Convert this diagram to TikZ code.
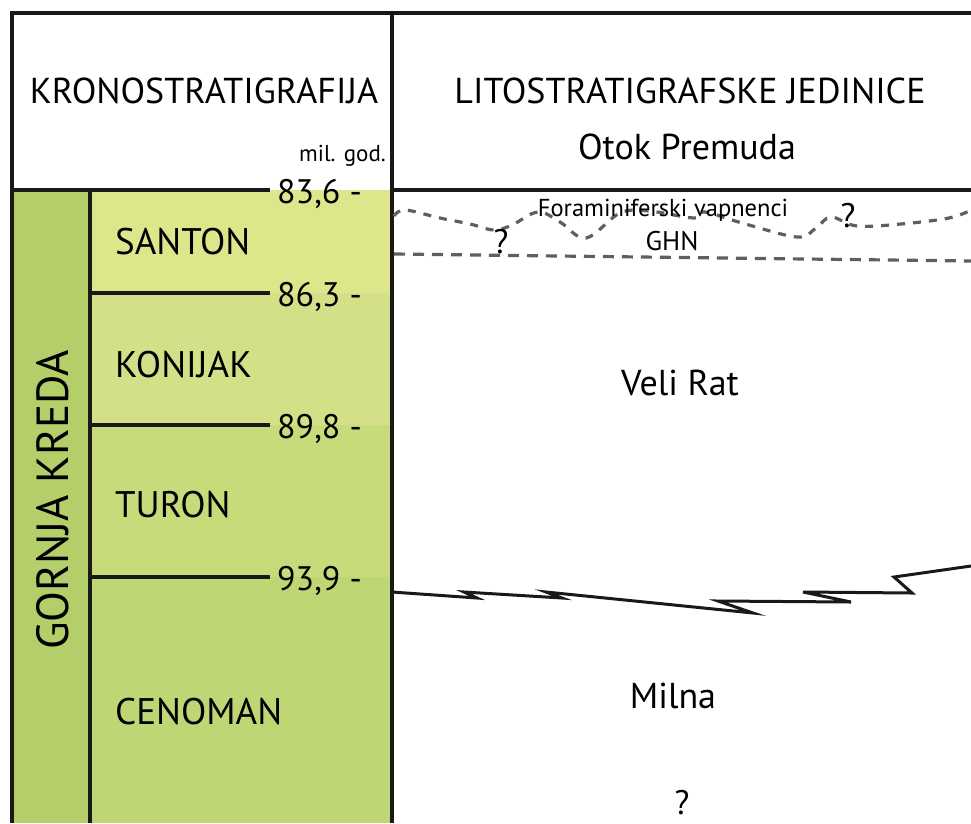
\documentclass[tikz,border=0pt]{standalone}
\usepackage{fontspec}
\setmainfont{PT Sans}
\usetikzlibrary{positioning,calc}
\definecolor{kredagreen} {RGB}{180,207,106}
\definecolor{santoncol}  {RGB}{221,230,139}
\definecolor{konijakcol} {RGB}{212,224,136}
\definecolor{turoncol}   {RGB}{200,219,123}
\definecolor{cenomancol} {RGB}{190,214,116}
\definecolor{contactgray}{RGB}{95,95,95}

\begin{document}
\begin{tikzpicture}[
  x=1pt,y=-1pt,
  frame/.style={line width=3.4pt,black!90},
  tick/.style={line width=3.2pt,black!90},
  head/.style={font=\fontsize{36}{40}\selectfont,anchor=base,inner sep=0pt},
  stage/.style={font=\fontsize{37}{40}\selectfont,anchor=base west,inner sep=0pt},
  age/.style={font=\fontsize{34}{38}\selectfont,anchor=base west,inner sep=0pt},
  unit/.style={font=\fontsize{36}{40}\selectfont,anchor=base,inner sep=0pt},
  small/.style={font=\fontsize{24.5}{28}\selectfont,anchor=base,inner sep=0pt},
  query/.style={font=\fontsize{34}{38}\selectfont,anchor=base,inner sep=0pt},
  wavy/.style={contactgray,line width=3.2pt,dash pattern=on 8pt off 8pt},
  dashline/.style={contactgray,line width=3.2pt,dash pattern=on 11pt off 8pt},
  contact/.style={line width=3pt,black!90,line join=miter},
]
\useasboundingbox (0,0) rectangle (971,823);

%% ── Colour fills of the chronostratigraphic column ─────────────────────────
\fill[kredagreen] (12,190)  rectangle (90,823);
\fill[santoncol]  (90,190)  rectangle (392,293);
\fill[konijakcol] (90,293)  rectangle (392,425);
\fill[turoncol]   (90,425)  rectangle (392,577);
\fill[cenomancol] (90,577)  rectangle (392,823);

%% ── Frame ──────────────────────────────────────────────────────────────────
\draw[frame] (12,823) -- (12,13) -- (971,13);
\draw[frame] (392,13) -- (392,823);
\draw[frame] (90,190) -- (90,823);
\draw[frame] (12,190) -- (270,190);
\draw[frame] (392,190) -- (971,190);

%% ── Stage boundaries and ages ──────────────────────────────────────────────
\foreach \yb in {293,425,577}{
  \draw[tick] (90,\yb) -- (270,\yb);
}
\node[age] (age836) at (277,203) {83,6 -};
\node[age] (age863) at (277,306) {86,3 -};
\node[age] (age898) at (277,438) {89,8 -};
\node[age] (age939) at (277,590) {93,9 -};

%% ── Header ────────────────────────────────────────────────────────────────
\node[head] (krono)  at (204,103) {KRONOSTRATIGRAFIJA};
\node[small,font=\fontsize{23}{26}\selectfont,anchor=base east]
  (milgod) at (386,161) {mil. god.};
\node[head] (lito)   at (690,103) {LITOSTRATIGRAFSKE JEDINICE};
\node[head] (otok)   at (687,159) {Otok Premuda};

%% ── Stages ────────────────────────────────────────────────────────────────
\node[stage] (santon)  at (115,254) {SANTON};
\node[stage] (konijak) at (115,377) {KONIJAK};
\node[stage] (turon)   at (115,517) {TURON};
\node[stage] (cenoman) at (115,724) {CENOMAN};
\node[font=\fontsize{45}{48}\selectfont,rotate=90,anchor=base,inner sep=0pt]
  (kreda) at (68,500) {GORNJA KREDA};

%% ── Lithostratigraphic contacts ───────────────────────────────────────────
\draw[wavy] plot[smooth,tension=0.6] coordinates {
  (394,216) (405,210) (440,218) (470,224) (494,230) (512,225) (538,212)
  (560,222) (586,238) (620,213) (649,211) (694,218) (705,212) (742,223)
  (797,237) (816,228) (831,217) (857,226) (901,224) (949,218) (971,210)};
\draw[dashline] (394,254) -- (971,261);
\draw[contact] (392,592) -- (477,598) -- (464,592) -- (562,598) -- (546,592)
  -- (753,613) -- (718,601) -- (851,602) -- (803,592) -- (912,593)
  -- (894,577) -- (971,566);

%% ── Lithostratigraphic units ──────────────────────────────────────────────
\node[small] (foram)   at (663,216) {Foraminiferski vapnenci};
\node[small,font=\fontsize{27}{30}\selectfont] (ghn) at (672,250) {GHN};
\node[unit]  (velirat) at (680,395) {Veli Rat};
\node[unit]  (milna)   at (673,708) {Milna};
\node[query] (q1) at (501,253) {?};
\node[query] (q2) at (848,227) {?};
\node[query] (q3) at (682,814) {?};

\end{tikzpicture}
\end{document}
